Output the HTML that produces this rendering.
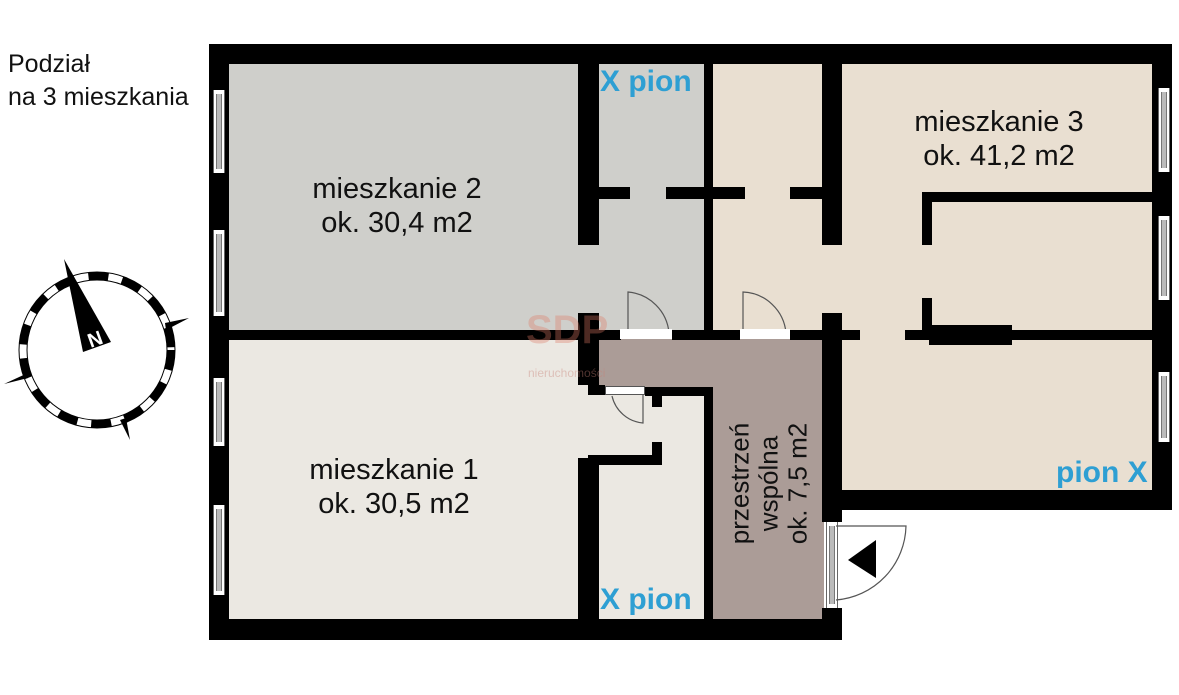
<!DOCTYPE html>
<html><head><meta charset="utf-8"><style>
body{margin:0;width:1179px;height:695px;background:#fff;position:relative;overflow:hidden;font-family:"Liberation Sans",sans-serif}
div{position:absolute}
.b{background:#000}
.w{background:#fff;border-left:1px solid #666;border-right:1px solid #666;}
.w::after{content:"";position:absolute;left:2px;right:2px;top:4px;bottom:4px;background:#bbb;border-left:1px solid #777;border-right:1px solid #777}
.t{color:#111;font-size:29px;text-align:center;line-height:34px;white-space:nowrap}
.p{color:#2e9fd3;font-weight:bold;font-size:30px;white-space:nowrap}
</style></head><body>
<div style="left:8px;top:48px;font-size:25px;line-height:33px;color:#111">Podział<br>na 3 mieszkania</div>

<div style="left:229px;top:64px;width:475px;height:268px;background:#cfcfcb"></div>
<div style="left:704px;top:64px;width:450px;height:430px;background:#e9dfd1"></div>
<div style="left:229px;top:340px;width:476px;height:282px;background:#ebe8e2"></div>
<div style="left:598px;top:338px;width:226px;height:54px;background:#ab9c97"></div>
<div style="left:712px;top:338px;width:112px;height:284px;background:#ab9c97"></div>

<div class="b" style="left:209px;top:44px;width:963px;height:20px"></div>
<div class="b" style="left:1152px;top:44px;width:20px;height:466px"></div>
<div class="b" style="left:842px;top:490px;width:330px;height:20px"></div>
<div class="b" style="left:209px;top:619px;width:633px;height:21px"></div>
<div class="b" style="left:209px;top:44px;width:20px;height:596px"></div>
<div class="w" style="left:213px;top:90px;width:10px;height:83px"></div>
<div class="w" style="left:213px;top:230px;width:10px;height:86px"></div>
<div class="w" style="left:213px;top:378px;width:10px;height:68px"></div>
<div class="w" style="left:213px;top:505px;width:10px;height:90px"></div>
<div class="w" style="left:1158px;top:88px;width:10px;height:84px"></div>
<div class="w" style="left:1158px;top:216px;width:10px;height:84px"></div>
<div class="w" style="left:1158px;top:372px;width:10px;height:70px"></div>
<div class="w" style="left:826px;top:522px;width:10px;height:86px"></div>
<svg style="position:absolute;left:0;top:0" width="1179" height="695">
<path d="M836 526 L906 526 A76 76 0 0 1 836 600" fill="none" stroke="#555" stroke-width="1.2"/>
<polygon points="848,560 876,540 876,578" fill="#000"/>
<path d="M628 333 L628 292 A45 45 0 0 1 669 333" fill="none" stroke="#555" stroke-width="1.2"/>
<path d="M743 333 L743 292 A45 45 0 0 1 786 333" fill="none" stroke="#555" stroke-width="1.2"/>
<path d="M643 393 L643 423 A35 35 0 0 1 612 396" fill="none" stroke="#555" stroke-width="1.2"/>
<circle cx="97" cy="350" r="78" fill="none" stroke="#000" stroke-width="1"/>
<circle cx="97" cy="350" r="70" fill="none" stroke="#000" stroke-width="1"/>
<circle cx="97" cy="350" r="74" fill="none" stroke="#000" stroke-width="8" stroke-dasharray="20 14"/>
<polygon points="64,259 111,342 83,352" fill="#000"/>
<polygon points="4,384 30,372 28,378" fill="#000"/>
<polygon points="189,318 165,323 166,330" fill="#000"/>
<polygon points="130,440 120,420 126,418" fill="#000"/>
<text x="88" y="347" font-size="20" font-weight="bold" fill="#fff" transform="rotate(-20 92 340)" font-family="Liberation Sans">N</text>
</svg>

<div class="b" style="left:578px;top:64px;width:21px;height:181px"></div>
<div class="b" style="left:704px;top:64px;width:9px;height:270px"></div>
<div class="b" style="left:822px;top:64px;width:20px;height:181px"></div>
<div class="b" style="left:599px;top:187px;width:31px;height:12px"></div>
<div class="b" style="left:666px;top:187px;width:79px;height:12px"></div>
<div class="b" style="left:790px;top:187px;width:32px;height:12px"></div>
<div class="b" style="left:229px;top:330px;width:392px;height:10px"></div>
<div style="left:620px;top:329px;width:52px;height:10px;background:#fff"></div>
<div class="b" style="left:672px;top:330px;width:68px;height:10px"></div>
<div style="left:740px;top:329px;width:50px;height:10px;background:#fff"></div>
<div class="b" style="left:790px;top:330px;width:70px;height:10px"></div>
<div class="b" style="left:822px;top:313px;width:20px;height:209px"></div>
<div class="b" style="left:905px;top:330px;width:247px;height:10px"></div>
<div class="b" style="left:929px;top:325px;width:83px;height:20px"></div>
<div class="b" style="left:922px;top:298px;width:10px;height:42px"></div>
<div class="b" style="left:922px;top:192px;width:10px;height:53px"></div>
<div class="b" style="left:922px;top:192px;width:230px;height:10px"></div>
<div class="b" style="left:1152px;top:172px;width:20px;height:44px"></div>
<div class="b" style="left:1152px;top:300px;width:20px;height:72px"></div>
<div class="b" style="left:578px;top:313px;width:21px;height:72px"></div>
<div class="b" style="left:588px;top:385px;width:17px;height:10px"></div>
<div style="left:605px;top:386px;width:40px;height:9px;background:#fff;border:1px solid #555;box-sizing:border-box"></div>
<div class="b" style="left:645px;top:387px;width:68px;height:9px"></div>
<div class="b" style="left:652px;top:387px;width:10px;height:20px"></div>
<div class="b" style="left:704px;top:387px;width:9px;height:235px"></div>
<div class="b" style="left:578px;top:458px;width:21px;height:162px"></div>
<div class="b" style="left:588px;top:455px;width:74px;height:10px"></div>
<div class="b" style="left:652px;top:442px;width:10px;height:23px"></div>
<div class="b" style="left:822px;top:608px;width:20px;height:32px"></div>

<div style="left:526px;top:308px;font-size:40px;font-weight:bold;color:rgba(220,120,100,0.35)">SDP</div>
<div style="left:528px;top:366px;font-size:12px;color:rgba(200,130,120,0.4)">nieruchomości</div>

<div class="t" style="left:287px;top:172px;width:220px">mieszkanie 2<br>ok. 30,4 m2</div>
<div class="t" style="left:284px;top:453px;width:220px">mieszkanie 1<br>ok. 30,5 m2</div>
<div class="t" style="left:889px;top:105px;width:220px">mieszkanie 3<br>ok. 41,2 m2</div>
<div class="t" style="left:669px;top:440px;width:200px;transform:rotate(-90deg);line-height:29px;font-size:26px">przestrzeń<br>wspólna<br>ok. 7,5 m2</div>
<div class="p" style="left:600px;top:65px">X pion</div>
<div class="p" style="left:600px;top:583px">X pion</div>
<div class="p" style="left:1056px;top:456px">pion X</div>
</body></html>
